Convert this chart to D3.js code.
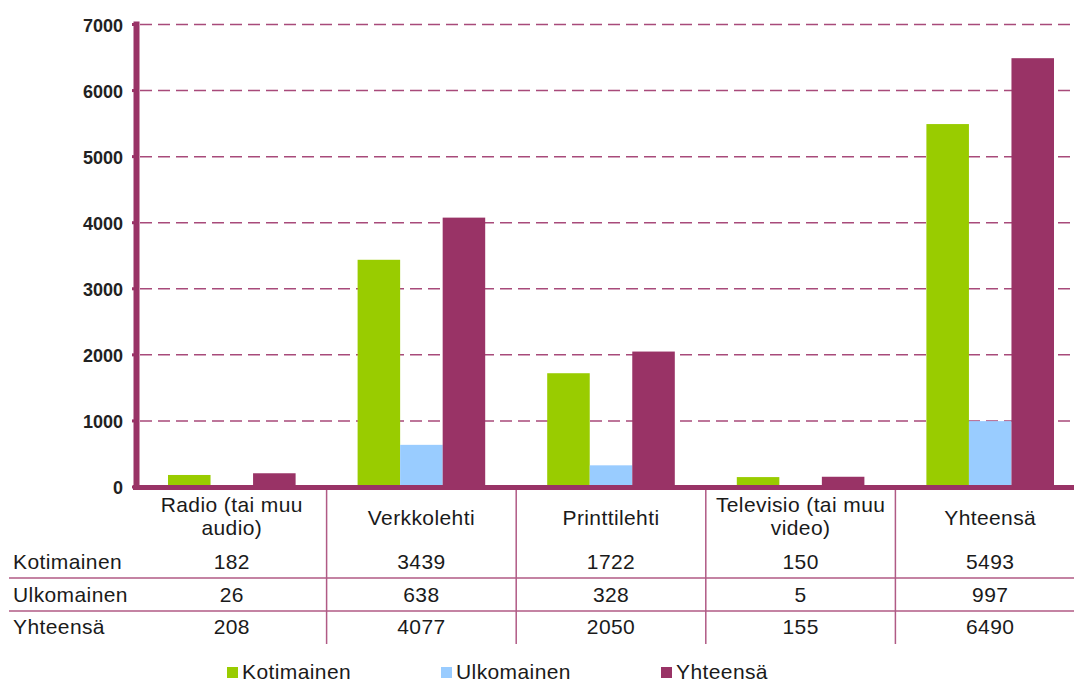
<!DOCTYPE html>
<html>
<head>
<meta charset="utf-8">
<script src="https://cdn.jsdelivr.net/npm/d3@7"></script>
<style>
  body { margin: 0; background: #fff; overflow: hidden; }
  svg { display: block; font-family: "Liberation Sans", Arial, sans-serif; }
  .tbl { font-size: 21px; letter-spacing: 0.4px; fill: #1a1a1a; }
  .ytick { font-size: 18px; font-weight: bold; fill: #222; }
</style>
</head>
<body>
<div id="chart"></div>
<script>
const categories = ["Radio (tai muu audio)", "Verkkolehti", "Printtilehti", "Televisio (tai muu video)", "Yhteensä"];
const categoryLines = [["Radio (tai muu", "audio)"], ["Verkkolehti"], ["Printtilehti"], ["Televisio (tai muu", "video)"], ["Yhteensä"]];
const seriesNames = ["Kotimainen", "Ulkomainen", "Yhteensä"];
const kotimainen = [182, 3439, 1722, 150, 5493];
const ulkomainen = [26, 638, 328, 5, 997];
const yhteensa = [208, 4077, 2050, 155, 6490];
const yTicks = [0, 1000, 2000, 3000, 4000, 5000, 6000, 7000];
const colors = ["#99cc00", "#99ccff", "#993366"];

const values = [kotimainen, ulkomainen, yhteensa];
const W = 1074, H = 684;
const plotLeft = 137, plotRight = 1085, plotTop = 24.5, base = 487;

const svg = d3.select("#chart").append("svg").attr("width", W).attr("height", H);

const x = d3.scaleBand().domain(categories).range([plotLeft, plotRight]);
const x1 = d3.scaleBand().domain(seriesNames).range([31, x.bandwidth() - 31]);
const y = d3.scaleLinear().domain([0, 7000]).range([base, plotTop]);

// gridlines
svg.append("g").selectAll("line")
    .data(yTicks.filter(t => t > 0))
    .join("line")
    .attr("x1", plotLeft + 3).attr("x2", W)
    .attr("y1", d => y(d)).attr("y2", d => y(d))
    .attr("stroke", "#a84a7a").attr("stroke-width", 1.5)
    .attr("stroke-dasharray", "12,6");

// bars
const rows = categories.map((c, i) => ({ cat: c, vals: seriesNames.map((s, j) => ({ s, v: values[j][i], j })) }));
svg.append("g").selectAll("g")
    .data(rows)
    .join("g")
    .attr("transform", d => `translate(${x(d.cat)},0)`)
    .selectAll("rect")
    .data(d => d.vals)
    .join("rect")
    .attr("x", d => x1(d.s))
    .attr("width", x1.bandwidth())
    .attr("y", d => y(d.v))
    .attr("height", d => base - y(d.v))
    .attr("fill", d => colors[d.j]);

// y axis
const yAxis = svg.append("g");
yAxis.append("line")
    .attr("x1", 136.5).attr("x2", 136.5).attr("y1", plotTop - 3).attr("y2", base + 3)
    .attr("stroke", "#993366").attr("stroke-width", 6);
yAxis.selectAll(".tk").data(yTicks).join("line")
    .attr("x1", 132).attr("x2", 137)
    .attr("y1", d => y(d)).attr("y2", d => y(d))
    .attr("stroke", "#993366").attr("stroke-width", 3);
yAxis.selectAll("text").data(yTicks).join("text")
    .attr("class", "ytick")
    .attr("x", 123).attr("y", d => y(d) + 7)
    .attr("text-anchor", "end")
    .text(d => d);

// x axis
svg.append("line")
    .attr("x1", 133).attr("x2", W).attr("y1", base + 0.5).attr("y2", base + 0.5)
    .attr("stroke", "#993366").attr("stroke-width", 5);

// data table
const tbl = svg.append("g");
const lineColor = "#b05a85";
[578, 611].forEach(yy => {
    tbl.append("line").attr("x1", 9).attr("x2", W).attr("y1", yy).attr("y2", yy)
        .attr("stroke", lineColor).attr("stroke-width", 1.5);
});
categories.slice(1).forEach(c => {
    tbl.append("line").attr("x1", x(c)).attr("x2", x(c)).attr("y1", 490).attr("y2", 644)
        .attr("stroke", lineColor).attr("stroke-width", 1.5);
});
categories.forEach((c, i) => {
    const lines = categoryLines[i];
    const cx = x(c) + x.bandwidth() / 2;
    const y0 = lines.length === 2 ? 512 : 525;
    lines.forEach((ln, k) => {
        tbl.append("text").attr("class", "tbl").attr("x", cx).attr("y", y0 + k * 23)
            .attr("text-anchor", "middle").text(ln);
    });
});
const rowBase = [569, 602, 634];
seriesNames.forEach((s, j) => {
    tbl.append("text").attr("class", "tbl").attr("x", 13).attr("y", rowBase[j]).text(s);
    categories.forEach((c, i) => {
        tbl.append("text").attr("class", "tbl")
            .attr("x", x(c) + x.bandwidth() / 2).attr("y", rowBase[j])
            .attr("text-anchor", "middle").text(values[j][i]);
    });
});

// legend
const legendX = [227, 441, 661];
const legend = svg.append("g").selectAll("g").data(seriesNames).join("g")
    .attr("transform", (d, i) => `translate(${legendX[i]},667)`);
legend.append("rect").attr("width", 11).attr("height", 11).attr("fill", (d, i) => colors[i]);
legend.append("text").attr("class", "tbl").attr("x", 15).attr("y", 12).text(d => d);
</script>
</body>
</html>
